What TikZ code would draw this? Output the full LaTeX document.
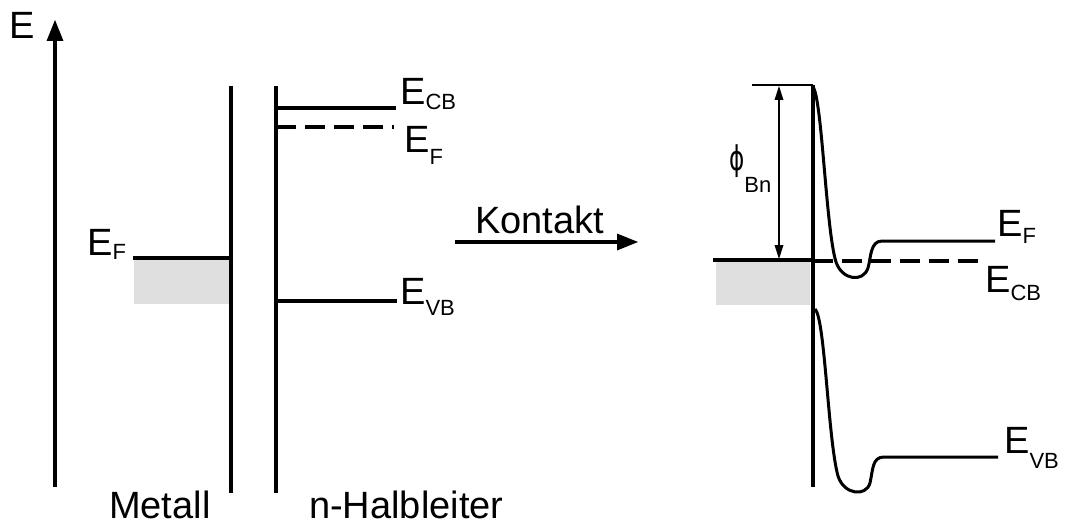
\documentclass[tikz,border=0pt]{standalone}
\usepackage{fontspec}
\setmainfont{Liberation Sans}
\newfontfamily\phifont{DejaVu Sans}
\usepackage{graphicx}
\newcommand\lvlsub[2][5pt]{\raisebox{-#1}{\fontsize{22}{22}\selectfont #2}}
\begin{document}
\begin{tikzpicture}[x=1pt,y=-1pt,
    band/.style={black,line width=3.5pt},
    tick/.style={black,line width=1.4pt},
    fermi/.style={band,dash pattern=on 20pt off 9pt},
    curve/.style={black,line width=3pt,line join=round},
    lbl/.style={inner sep=0pt,anchor=base west,font=\fontsize{38}{38}\selectfont}]
    \useasboundingbox (0,0) rectangle (1072,527);
    % energy axis
    \draw [band] (55,487) -- (55,38);
    \fill [black] (55,20) -- (46.5,41) -- (63.5,41) -- cycle;
    \node [lbl] (eaxis) at (9,39) {E};
    % metal before contact
    \fill [gray!25] (134,260) rectangle (229,304);
    \draw [band] (231,86) -- (231,493);
    \draw [band] (133,258) -- (231,258);
    \node [lbl] (efm) at (87,255) {E\lvlsub[4pt]{F}};
    \node [lbl] (metall) at (109,518) {Metall};
    % semiconductor before contact
    \draw [band] (276,86) -- (276,493);
    \draw [band] (276,108) -- (396,108);
    \draw [fermi] (276,127) -- (394,127);
    \draw [band] (276,301) -- (397,301);
    \node [lbl] (ecb) at (400,105) {E\lvlsub{CB}};
    \node [lbl] (efs) at (404,152) {E\lvlsub[13pt]{F}};
    \node [lbl] (evb) at (400,304) {E\lvlsub[11pt]{VB}};
    \node [lbl] (halb) at (309,518) {n-Halbleiter};
    % contact arrow
    \coordinate (kon-a) at (455,242);
    \coordinate (kon-b) at (620,242);
    \draw [band] (kon-a) -- (kon-b);
    \fill [black] (638,242) -- (617,233.5) -- (617,250.5) -- cycle;
    \node [lbl] (kontakt) at (475,233) {Kontakt};
    % after contact
    \fill [gray!25] (716,262) rectangle (810,305);
    \draw [band] (713,260) -- (813,260);
    \draw [fermi] (813,261) -- (983,261);
    \draw [band] (813,85) -- (813,487);
    \draw [tick] (752,85) -- (813,85);
    \draw [tick] (779,98) -- (779,248);
    \fill [black] (779,86) -- (774.5,100) -- (783.5,100) -- cycle;
    \fill [black] (779,259) -- (774.5,245) -- (783.5,245) -- cycle;
    \node [lbl] (phibn) at (729,170) {{\phifont\fontsize{34}{34}\selectfont\scalebox{0.68}[1]{ϕ}}\lvlsub[22pt]{Bn}};
    \draw [curve] (813,87) .. controls (822,98) and (826,230) .. (836,262)
        .. controls (842,280) and (863,283) .. (868,268)
        .. controls (871,258) and (870,241) .. (882,241) -- (995,241);
    \draw [curve] (815,309) .. controls (825,318) and (828,440) .. (838,476)
        .. controls (844,495) and (866,497) .. (870,483)
        .. controls (873,470) and (872,457) .. (884,457) -- (998,457);
    \node [lbl] (efr) at (997,236) {E\lvlsub[7pt]{F}};
    \node [lbl] (ecbr) at (985,292) {E\lvlsub[8pt]{CB}};
    \node [lbl] (evbr) at (1004,453) {E\lvlsub[15pt]{VB}};
\end{tikzpicture}
\end{document}
